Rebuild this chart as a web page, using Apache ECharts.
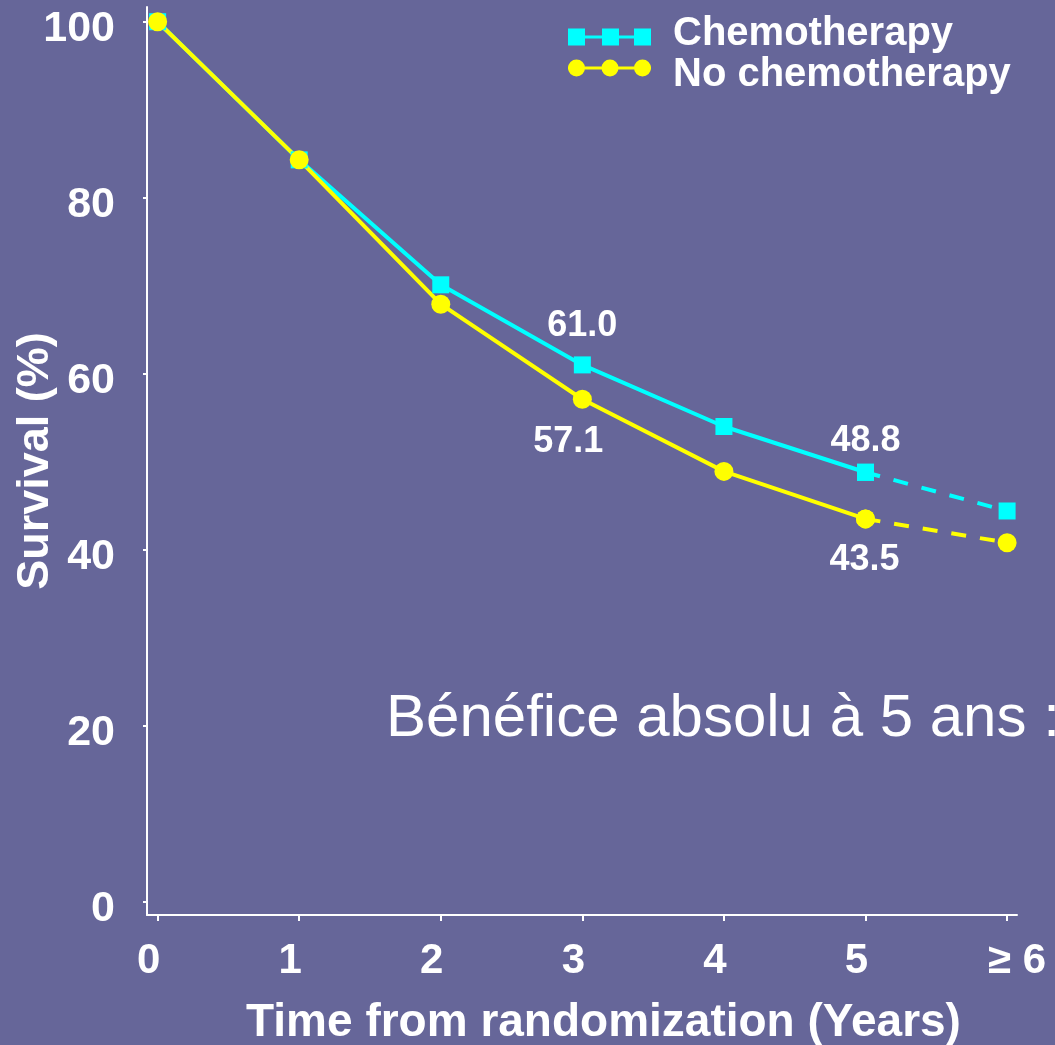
<!DOCTYPE html>
<html>
<head>
<meta charset="utf-8">
<script src="https://cdn.jsdelivr.net/npm/echarts@6/dist/echarts.min.js"></script>
<style>
  html, body { margin: 0; padding: 0; background: #666699; }
  #chart { width: 1055px; height: 1045px; }
</style>
</head>
<body>
<div id="chart"></div>
<script>
// Survival by year since randomization
const years = [0, 1, 2, 3, 4, 5, 6];
const chemoSurvival = [100, 84.3, 70.1, 61.0, 54.0, 48.8, 44.4];
const noChemoSurvival = [100, 84.3, 67.9, 57.1, 48.9, 43.5, 40.8];
const yTicks = [0, 20, 40, 60, 80, 100];
const xTicks = [0, 1, 2, 3, 4, 5, 6];
const lastYearLabel = '\u2265 6';
const labelledYears = [3, 5];
const seriesNames = ['Chemotherapy', 'No chemotherapy'];
const noteText = 'Bénéfice absolu à 5 ans :';

const FONT = "'Liberation Sans', Arial, sans-serif";
const CYAN = '#00ffff';
const YELLOW = '#ffff00';

// label placement around the annotated points (above for chemo, below otherwise)
const labelOffsets = {
  chemo: { 3: [0, -39], 5: [0, -31] },
  noChemo: { 3: [-14, 43], 5: [-1, 41] }
};

function pointsFor(values, from, to, offsets) {
  const out = [];
  for (let i = from; i <= to; i++) {
    const item = { value: [years[i], values[i]] };
    if (offsets && labelledYears.indexOf(years[i]) >= 0) {
      item.label = {
        show: true,
        position: 'inside',
        offset: offsets[years[i]],
        formatter: values[i].toFixed(1),
        color: '#ffffff',
        fontFamily: FONT,
        fontWeight: 'bold',
        fontSize: 36
      };
    }
    out.push(item);
  }
  return out;
}

function solidSeries(name, values, color, symbol, size, offsets) {
  return {
    name: name,
    type: 'line',
    data: pointsFor(values, 0, 5, offsets),
    symbol: symbol,
    symbolSize: size,
    showAllSymbol: true,
    lineStyle: { color: color, width: 4 },
    itemStyle: { color: color },
    label: { show: false },
    emphasis: { disabled: true }
  };
}

function dashedSeries(name, values, color, symbol, size) {
  return {
    name: name,
    type: 'line',
    data: pointsFor(values, 5, 6, null),
    symbol: symbol,
    symbolSize: size,
    showAllSymbol: true,
    lineStyle: { color: color, width: 4, type: [15, 14] },
    itemStyle: { color: color },
    emphasis: { disabled: true }
  };
}

const squaresIcon = 'path://M0,0h17v17h-17z M34,0h17v17h-17z M66,0h17v17h-17z M0,7h83v3h-83z';
const circlesIcon = 'path://M0,8.5a8.5,8.5 0 1,1 17,0a8.5,8.5 0 1,1 -17,0z ' +
  'M33.5,8.5a8.5,8.5 0 1,1 17,0a8.5,8.5 0 1,1 -17,0z ' +
  'M66,8.5a8.5,8.5 0 1,1 17,0a8.5,8.5 0 1,1 -17,0z M0,7h83v3h-83z';

function legendRich(padTop, padBottom) {
  return {
    formatter: function (name) { return '{t|' + name + '}'; },
    textStyle: {
      rich: {
        t: {
          color: '#ffffff', fontFamily: FONT, fontWeight: 'bold',
          fontSize: 40, lineHeight: 40, padding: [padTop, 0, padBottom, 17]
        }
      }
    }
  };
}

const chart = echarts.init(document.getElementById('chart'), null, { renderer: 'canvas' });

chart.setOption({
  backgroundColor: '#666699',
  animation: false,
  grid: { left: 147, right: 38, top: 7, bottom: 130, containLabel: false, outerBoundsMode: 'none' },
  legend: [
    Object.assign({
      left: 568, top: 14, padding: 0, itemGap: 0, orient: 'vertical',
      itemWidth: 83, itemHeight: 17, selectedMode: false,
      data: [{ name: seriesNames[0], icon: squaresIcon }]
    }, legendRich(0, 6)),
    Object.assign({
      left: 568, top: 41, padding: 0, itemGap: 0, orient: 'vertical',
      itemWidth: 83, itemHeight: 17, selectedMode: false,
      data: [{ name: seriesNames[1], icon: circlesIcon }]
    }, legendRich(14, 0))
  ],
  xAxis: {
    type: 'value',
    min: -0.075,
    max: 6.07,
    name: 'Time from randomization (Years)',
    nameLocation: 'middle',
    nameGap: 85,
    nameMoveOverlap: false,
    nameTextStyle: {
      color: '#ffffff', fontFamily: FONT, fontWeight: 'bold', fontSize: 46,
      padding: [0, 0, 0, 43]
    },
    axisLine: { show: true, onZero: false, lineStyle: { color: '#ffffff', width: 2 } },
    axisTick: {
      show: true, length: 6, inside: false,
      customValues: xTicks,
      lineStyle: { color: '#ffffff', width: 2 }
    },
    axisLabel: {
      customValues: xTicks,
      margin: 25,
      formatter: function (v) {
        return v === 6 ? '{g|' + lastYearLabel + '}' : '{n|' + v + '}';
      },
      rich: {
        n: { color: '#ffffff', fontFamily: FONT, fontWeight: 'bold', fontSize: 42, padding: [0, 18, 0, 0] },
        g: { color: '#ffffff', fontFamily: FONT, fontWeight: 'bold', fontSize: 42, padding: [0, 0, 0, 20] }
      }
    },
    splitLine: { show: false }
  },
  yAxis: {
    type: 'value',
    min: -1.51,
    max: 101.67,
    name: 'Survival (%)',
    nameLocation: 'middle',
    nameGap: 89,
    nameMoveOverlap: false,
    nameTextStyle: { color: '#ffffff', fontFamily: FONT, fontWeight: 'bold', fontSize: 45 },
    axisLine: { show: true, onZero: false, lineStyle: { color: '#ffffff', width: 2 } },
    axisTick: {
      show: true, length: 4, inside: false,
      customValues: yTicks,
      lineStyle: { color: '#ffffff', width: 2 }
    },
    axisLabel: {
      customValues: yTicks,
      margin: 32,
      color: '#ffffff',
      fontFamily: FONT,
      fontWeight: 'bold',
      fontSize: 43,
      verticalAlign: 'top',
      lineHeight: 14
    },
    splitLine: { show: false }
  },
  series: [
    solidSeries(seriesNames[0], chemoSurvival, CYAN, 'rect', 17, labelOffsets.chemo),
    dashedSeries(seriesNames[0], chemoSurvival, CYAN, 'rect', 17),
    solidSeries(seriesNames[1], noChemoSurvival, YELLOW, 'circle', 19, labelOffsets.noChemo),
    dashedSeries(seriesNames[1], noChemoSurvival, YELLOW, 'circle', 19)
  ],
  graphic: [
    {
      type: 'text',
      left: 386,
      top: 689,
      style: {
        text: noteText,
        fill: '#ffffff',
        font: '60px ' + FONT
      }
    }
  ]
});
</script>
</body>
</html>
